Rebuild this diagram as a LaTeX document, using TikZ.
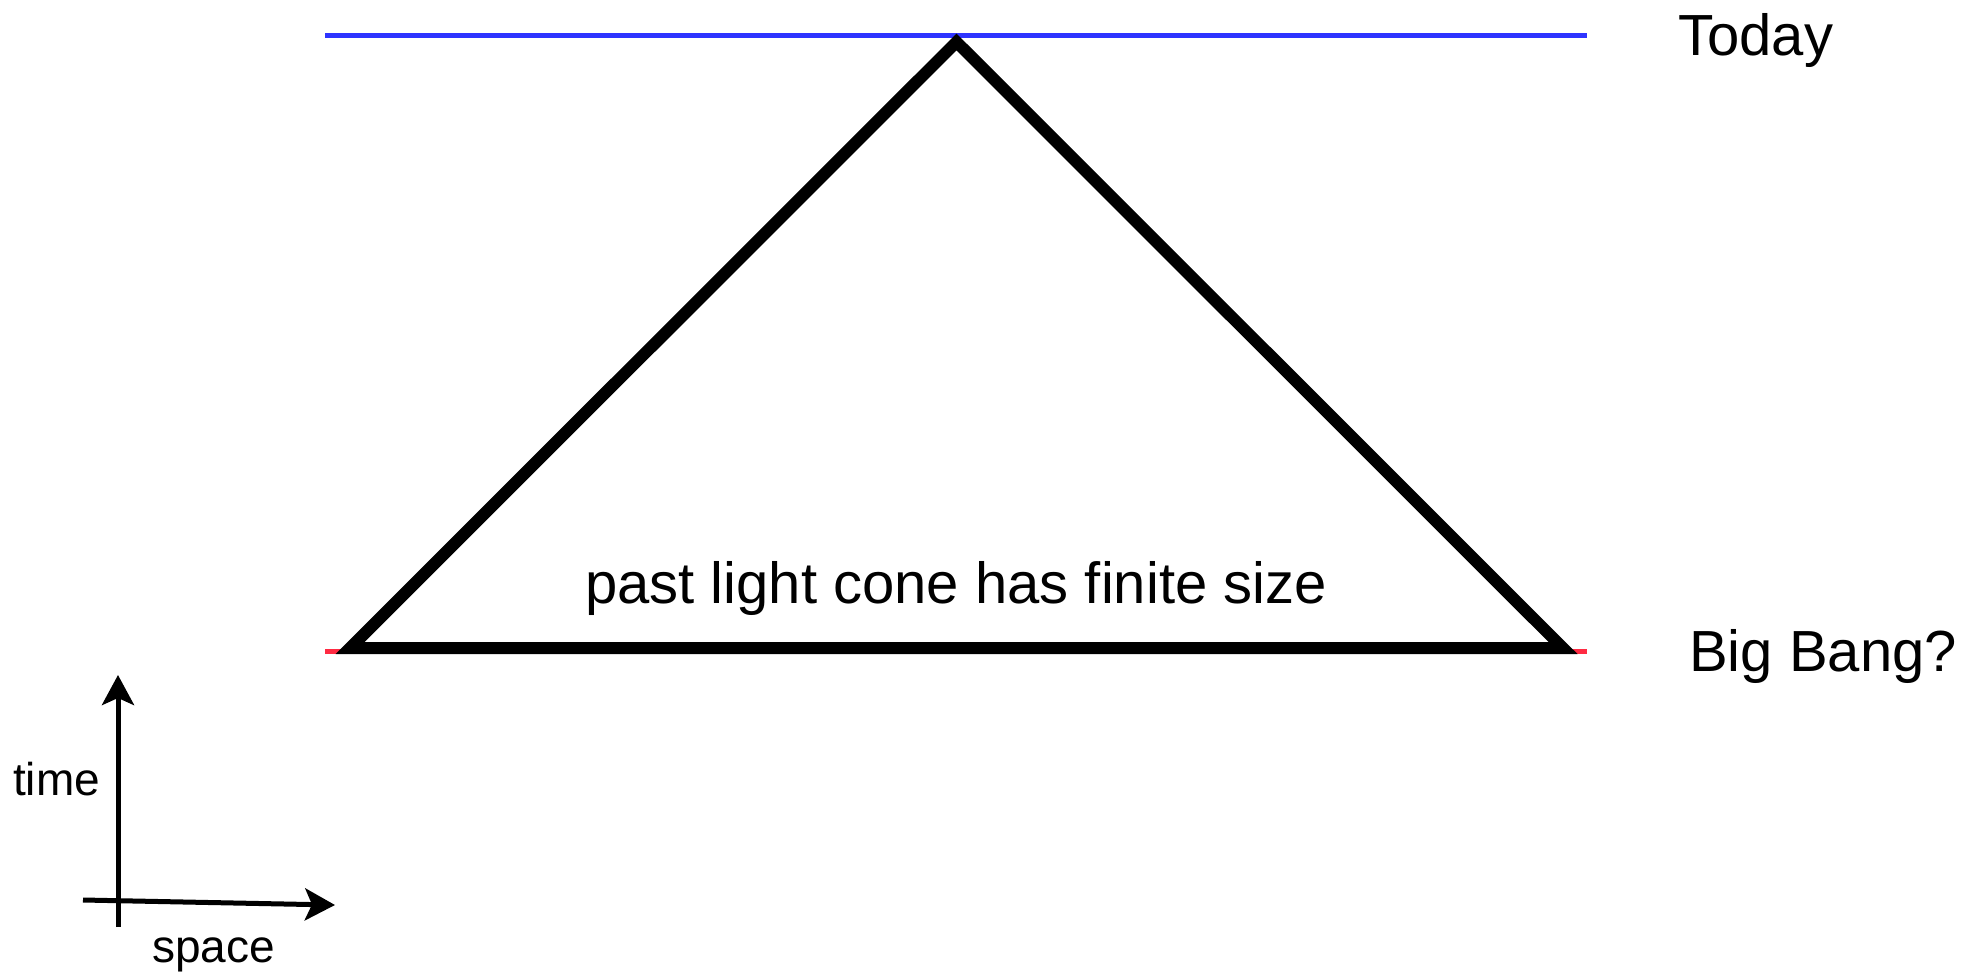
\documentclass[tikz,border=0pt]{standalone}
\usepackage{fontspec}
\setmainfont{Liberation Sans}
\usetikzlibrary{arrows.meta}
\definecolor{todayblue}{RGB}{46,52,255}
\definecolor{bangred}{RGB}{255,42,66}
\begin{document}
\begin{tikzpicture}[x=1pt,y=-1pt,
  biglabel/.style={inner sep=0pt,anchor=base west,font=\fontsize{58}{66}\selectfont},
  smalllabel/.style={inner sep=0pt,anchor=base west,font=\fontsize{46}{54}\selectfont},
  epochline/.style={line width=5pt},
  cone/.style={line width=12pt,line join=miter,miter limit=10},
  axis/.style={line width=5pt,-{Stealth[length=30pt,width=32pt,inset=7pt]}}]
\useasboundingbox (0,0) rectangle (1983,975);
% epoch lines
\coordinate (tl) at (325,35.5);
\coordinate (tr) at (1587,35.5);
\coordinate (rl) at (325,651.5);
\coordinate (rr) at (1587,651.5);
\draw[epochline,todayblue] (tl) -- (tr);
\draw[epochline,bangred] (rl) -- (rr);
% light cone
\coordinate (apex) at (956.5,42);
\coordinate (bl) at (350,648);
\coordinate (br) at (1563,648);
\draw[cone] (apex) -- (br) -- (bl) -- cycle;
% labels
\node[biglabel] (today) at (1678,55) {Today};
\node[biglabel] (bang) at (1689,671) {Big Bang?};
\node[biglabel,anchor=base] (cone) at (956,603) {past light cone has finite size};
% axes
\coordinate (t0) at (118,927);
\coordinate (t1) at (118,675);
\coordinate (s0) at (83,900);
\coordinate (s1) at (335,905);
\draw[axis] (t0) -- (t1);
\draw[axis] (s0) -- (s1);
\node[smalllabel] (time) at (13,795) {time};
\node[smalllabel] (space) at (152,962) {space};
\end{tikzpicture}
\end{document}
